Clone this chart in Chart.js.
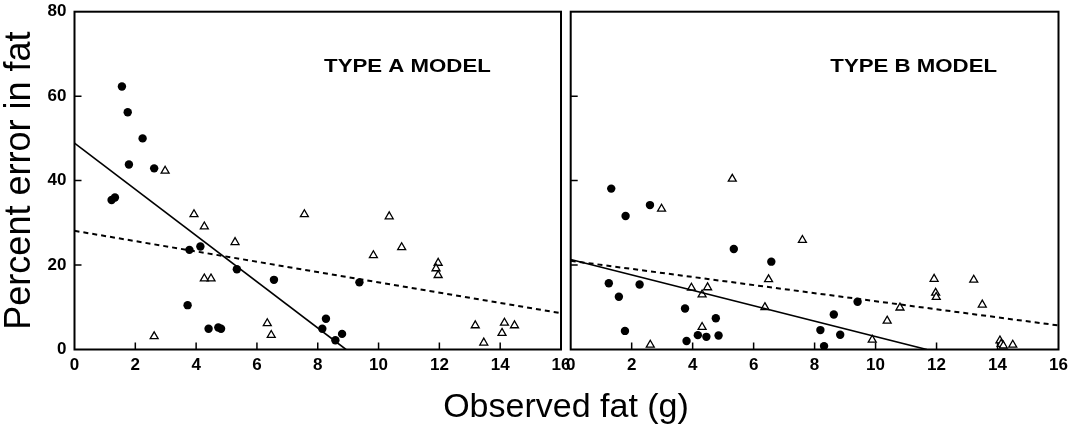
<!DOCTYPE html>
<html>
<head>
<meta charset="utf-8">
<script src="https://cdn.jsdelivr.net/npm/chart.js@4/dist/chart.umd.min.js"></script>
<style>
	body { margin: 0; background: #fff; }
	#wrap { position: relative; width: 1080px; height: 431px; overflow: hidden; }
	canvas { position: absolute; top: 0; }
	#left { left: 0; }
	#right { left: 540px; }
	#xtitle { position: absolute; left: 366px; width: 400px; top: 388px; text-align: center;
		font: 34px "Liberation Sans", Arial, sans-serif; line-height: 34px; color: #000; }
</style>
</head>
<body>
<div id="wrap">
	<canvas id="left" width="600" height="431"></canvas>
	<canvas id="right" width="540" height="431"></canvas>
	<div id="xtitle">Observed fat (g)</div>
</div>
<script>
// Type A model, filled circles
const aCircleX = [1.22, 1.33, 1.56, 1.75, 2.24, 1.79, 2.62, 3.78, 4.14, 5.34, 6.56, 9.37, 3.72, 4.41, 4.73, 4.82, 8.27, 8.15, 8.8, 8.58];
const aCircleY = [35.4, 36.0, 62.3, 56.2, 50.0, 43.8, 42.9, 23.6, 24.4, 19.0, 16.5, 15.9, 10.5, 4.9, 5.2, 4.9, 7.3, 4.9, 3.7, 2.2];
// Type A model, open triangles
const aTriX = [2.98, 3.93, 4.27, 5.28, 7.56, 4.49, 4.27, 2.62, 6.34, 6.47, 10.35, 10.76, 9.83, 11.96, 11.89, 11.96, 13.18, 14.14, 14.47, 14.06, 13.46];
const aTriY = [42.3, 32.0, 29.1, 25.4, 32.0, 16.8, 16.8, 3.1, 6.2, 3.4, 31.5, 24.2, 22.3, 20.5, 19.2, 17.6, 5.7, 6.3, 5.7, 3.9, 1.6];
// Type A regression lines [x0, y0, x1, y1]
const aSolid = [0, 48.9, 8.93, 0];
const aDashed = [0, 28.1, 16, 8.6];

// Type B model, filled circles
const bCircleX = [1.33, 2.6, 1.8, 5.35, 6.58, 1.25, 2.26, 1.58, 3.75, 4.76, 1.78, 4.17, 4.45, 4.85, 3.8, 8.19, 9.41, 8.63, 8.84, 8.31];
const bCircleY = [38.1, 34.2, 31.6, 23.8, 20.8, 15.7, 15.4, 12.5, 9.7, 7.4, 4.4, 3.4, 3.0, 3.3, 2.0, 4.6, 11.3, 8.3, 3.5, 0.8];
// Type B model, open triangles
const bTriX = [5.3, 2.98, 7.6, 6.49, 3.96, 4.49, 4.31, 6.37, 4.31, 2.61, 11.92, 13.22, 11.97, 11.99, 13.5, 10.8, 10.38, 9.89, 14.08, 14.12, 14.19, 14.5];
const bTriY = [40.4, 33.3, 25.9, 16.6, 14.6, 14.7, 13.0, 10.0, 5.3, 1.1, 16.7, 16.5, 13.4, 12.4, 10.6, 9.9, 6.8, 2.3, 2.1, 1.3, 0.9, 1.1];
const bSolid = [0, 21.3, 11.68, 0];
const bDashed = [0, 21.0, 16, 5.7];

const xTicks = [0, 2, 4, 6, 8, 10, 12, 14, 16];
const yTicks = [0, 20, 40, 60, 80];
const yTitle = 'Percent error in fat';

Chart.defaults.font.family = '"Liberation Sans", Arial, sans-serif';
Chart.defaults.color = '#000';

function points(xs, ys) {
	return xs.map((x, i) => ({x: x, y: ys[i]}));
}

function seg(s) {
	return [{x: s[0], y: s[1]}, {x: s[2], y: s[3]}];
}

// no extra room for the end labels, the layout padding handles it
function noEdgePadding(s) {
	s.paddingTop = 0;
	s.paddingBottom = 0;
	s.paddingLeft = 0;
	s.paddingRight = 0;
}

// frame, inward tick marks and the panel label
const panelDecor = {
	id: 'panelDecor',
	afterDraw(chart, args, opts) {
		const ctx = chart.ctx;
		const a = chart.chartArea;
		const xs = chart.scales.x, ys = chart.scales.y;
		ctx.save();
		ctx.strokeStyle = '#000';
		ctx.lineWidth = 2;
		ctx.strokeRect(a.left, a.top, a.right - a.left, a.bottom - a.top);
		ctx.lineWidth = 1.5;
		ctx.beginPath();
		xTicks.slice(1, -1).forEach(v => {
			const px = xs.getPixelForValue(v);
			ctx.moveTo(px, a.bottom);
			ctx.lineTo(px, a.bottom - 7);
		});
		yTicks.slice(1, -1).forEach(v => {
			const py = ys.getPixelForValue(v);
			ctx.moveTo(a.left, py);
			ctx.lineTo(a.left + 7, py);
		});
		ctx.stroke();
		ctx.fillStyle = '#000';
		ctx.font = 'bold 19px "Liberation Sans", Arial, sans-serif';
		ctx.textAlign = 'center';
		ctx.textBaseline = 'middle';
		ctx.translate(xs.getPixelForValue(opts.x), ys.getPixelForValue(opts.y));
		ctx.scale(1.17, 1);
		ctx.fillText(opts.text, 0, 0);
		ctx.restore();
	}
};

function makeChart(id, d, side) {
	const isLeft = side === 'left';
	return new Chart(document.getElementById(id), {
		type: 'scatter',
		data: {
			datasets: [
				{type: 'line', data: seg(d.solid), borderColor: '#000', borderWidth: 1.6, pointRadius: 0, fill: false},
				{type: 'line', data: seg(d.dashed), borderColor: '#000', borderWidth: 2, borderDash: [5, 4], pointRadius: 0, fill: false},
				{data: points(d.cx, d.cy), pointStyle: 'circle', pointRadius: 4.2, backgroundColor: '#000', borderColor: '#000', borderWidth: 0},
				{data: points(d.tx, d.ty), pointStyle: 'triangle', pointRadius: 4.6, backgroundColor: '#fff', borderColor: '#000', borderWidth: 1.3}
			]
		},
		options: {
			responsive: false,
			animation: false,
			devicePixelRatio: 1,
			layout: {padding: {left: 0, right: isLeft ? 39 : 21.5, top: 11.7, bottom: 51.5}},
			plugins: {
				legend: {display: false},
				tooltip: {enabled: false},
				panelDecor: {text: d.label, x: d.lx, y: 66.9}
			},
			scales: {
				x: {
					type: 'linear', min: 0, max: 16,
					afterBuildTicks: s => { s.ticks = xTicks.map(v => ({value: v})); },
					afterFit: s => { s.height = 30; noEdgePadding(s); },
					grid: {display: false, drawTicks: false},
					border: {display: false},
					ticks: {padding: 6, font: {size: 17, weight: 'bold'}, maxRotation: 0, autoSkip: false}
				},
				y: {
					type: 'linear', min: 0, max: 80,
					afterBuildTicks: s => { s.ticks = yTicks.map(v => ({value: v})); },
					afterFit: s => { s.width = isLeft ? 74.5 : 30.7; noEdgePadding(s); },
					grid: {display: false, drawTicks: false},
					border: {display: false},
					ticks: {display: isLeft, padding: 8, font: {size: 17, weight: 'bold'}},
					title: {display: isLeft, text: yTitle, padding: 0, font: {size: 36, lineHeight: 1.1}}
				}
			}
		},
		plugins: [panelDecor]
	});
}

makeChart('left', {cx: aCircleX, cy: aCircleY, tx: aTriX, ty: aTriY, solid: aSolid, dashed: aDashed, label: 'TYPE A MODEL', lx: 10.95}, 'left');
makeChart('right', {cx: bCircleX, cy: bCircleY, tx: bTriX, ty: bTriY, solid: bSolid, dashed: bDashed, label: 'TYPE B MODEL', lx: 11.25}, 'right');
</script>
</body>
</html>
